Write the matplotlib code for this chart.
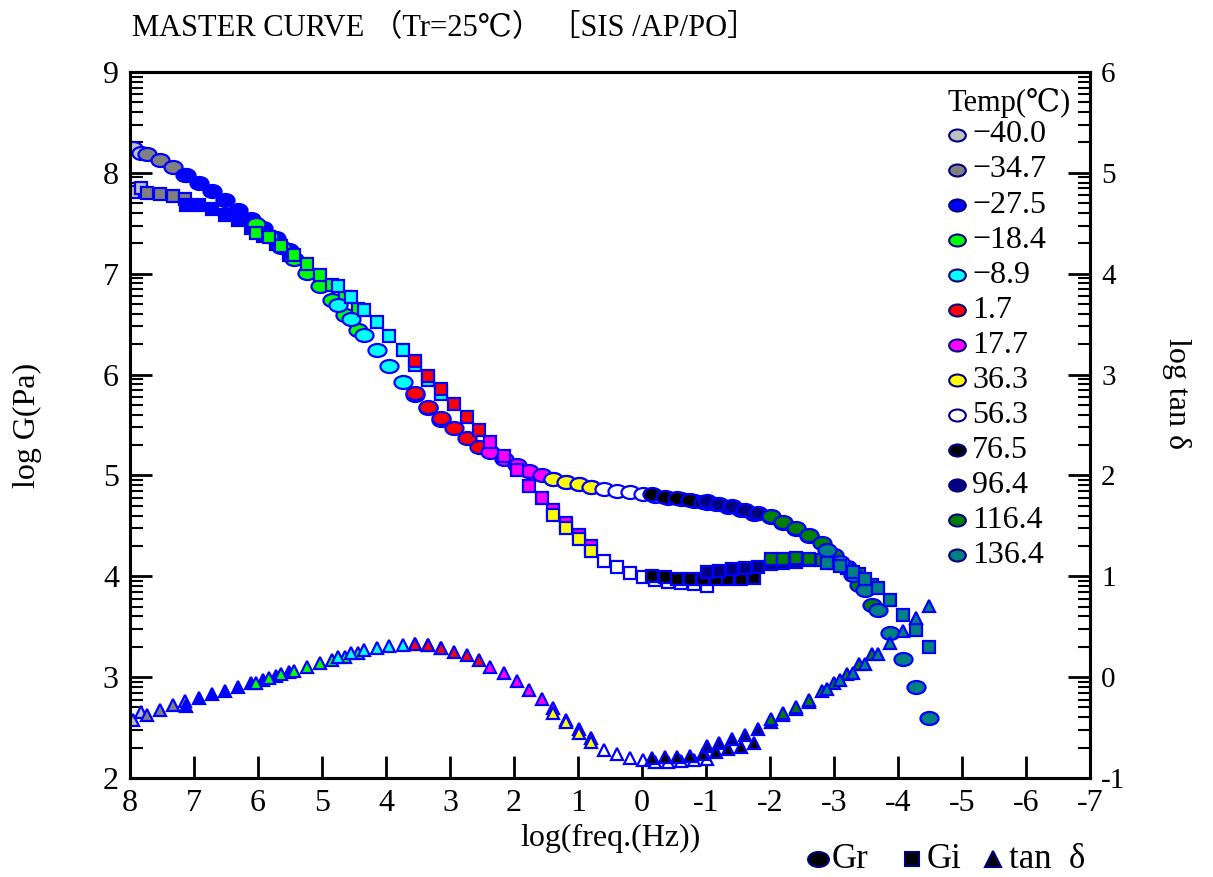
import matplotlib
matplotlib.use("Agg")
import matplotlib.pyplot as plt
from matplotlib.path import Path
from matplotlib.transforms import Affine2D
from matplotlib.ticker import FixedLocator
import numpy as np

plt.rcParams['font.family'] = ['Liberation Serif', 'DejaVu Serif', 'Noto Sans CJK JP']
plt.rcParams['axes.unicode_minus'] = False

# temperatures and their fill colours
temps = ['-40.0', '-34.7', '-27.5', '-18.4', '-8.9', '1.7', '17.7', '36.3',
         '56.3', '76.5', '96.4', '116.4', '136.4']
colors = ['#C0C0C0', '#808080', '#0000FF', '#00FF00', '#00FFFF', '#FF0000',
          '#FF00FF', '#FFFF00', '#FFFFFF', '#000000', '#000080', '#008000', '#008080']

# shifted log frequency for every temperature
logf = [
    [7.95, 7.83],
    [7.73, 7.53, 7.33, 7.14],
    [7.12, 6.92, 6.72, 6.52, 6.31, 6.11, 5.92, 5.72, 5.52],
    [6.03, 5.83, 5.64, 5.44, 5.23, 5.03, 4.84, 4.64, 4.44],
    [4.75, 4.54, 4.34, 4.14, 3.95, 3.74, 3.55, 3.35, 3.14],
    [3.55, 3.35, 3.14, 2.94, 2.74, 2.54],
    [2.37, 2.16, 1.96, 1.76, 1.57, 1.39, 1.19, 0.98, 0.79],
    [1.39, 1.19, 0.98, 0.79],
    [0.59, 0.39, 0.19, -0.01, -0.21, -0.41, -0.61, -0.81, -1.01],
    [-0.16, -0.36, -0.55, -0.75, -0.95, -1.15, -1.34, -1.55, -1.75],
    [-1.01, -1.21, -1.41, -1.61, -1.81, -2.01, -2.21, -2.41, -2.61],
    [-2.02, -2.21, -2.41, -2.61, -2.81, -3.00, -3.20, -3.39, -3.59],
    [-2.89, -3.09, -3.29, -3.48, -3.68, -3.88, -4.08, -4.28, -4.48],
]

# log G' (Gr)
gr = [
    [8.25, 8.20],
    [8.19, 8.13, 8.06, 7.98],
    [7.98, 7.90, 7.82, 7.73, 7.63, 7.54, 7.45, 7.35, 7.24],
    [7.49, 7.37, 7.26, 7.15, 7.01, 6.88, 6.74, 6.59, 6.44],
    [6.69, 6.55, 6.39, 6.24, 6.08, 5.93, 5.80, 5.67, 5.55],
    [5.82, 5.68, 5.57, 5.47, 5.37, 5.28],
    [5.23, 5.16, 5.10, 5.04, 5.00, 4.96, 4.93, 4.91, 4.89],
    [4.96, 4.93, 4.91, 4.89],
    [4.87, 4.85, 4.84, 4.82, 4.80, 4.78, 4.77, 4.75, 4.73],
    [4.82, 4.79, 4.78, 4.76, 4.74, 4.72, 4.69, 4.66, 4.62],
    [4.75, 4.72, 4.70, 4.66, 4.63, 4.59, 4.53, 4.47, 4.40],
    [4.60, 4.54, 4.48, 4.41, 4.33, 4.21, 4.09, 3.91, 3.72],
    [4.26, 4.14, 4.01, 3.86, 3.67, 3.44, 3.18, 2.90, 2.59],
]

# log G'' (Gi)
gi = [
    [7.81, 7.85],
    [7.80, 7.79, 7.77, 7.74],
    [7.68, 7.68, 7.64, 7.58, 7.53, 7.45, 7.37, 7.29, 7.19],
    [7.40, 7.36, 7.27, 7.19, 7.10, 6.99, 6.89, 6.77, 6.65],
    [6.88, 6.77, 6.64, 6.52, 6.38, 6.24, 6.09, 5.95, 5.81],
    [6.13, 5.99, 5.86, 5.71, 5.58, 5.45],
    [5.33, 5.19, 5.05, 4.90, 4.78, 4.66, 4.53, 4.41, 4.30],
    [4.61, 4.48, 4.37, 4.25],
    [4.15, 4.09, 4.03, 3.99, 3.96, 3.94, 3.93, 3.92, 3.90],
    [4.00, 3.99, 3.97, 3.97, 3.97, 3.97, 3.97, 3.97, 3.98],
    [4.04, 4.05, 4.07, 4.08, 4.09, 4.12, 4.13, 4.14, 4.16],
    [4.17, 4.17, 4.18, 4.17, 4.16, 4.13, 4.08, 4.02, 3.91],
    [4.13, 4.10, 4.04, 3.97, 3.88, 3.76, 3.62, 3.47, 3.30],
]

# log tan delta
tand = [
    [-0.43, -0.35],
    [-0.38, -0.33, -0.28, -0.24],
    [-0.29, -0.21, -0.17, -0.14, -0.10, -0.06, -0.03, 0.01, 0.05],
    [-0.06, -0.01, 0.03, 0.06, 0.10, 0.14, 0.17, 0.20, 0.24],
    [0.20, 0.24, 0.27, 0.29, 0.31, 0.32, 0.33, 0.32, 0.29],
    [0.33, 0.32, 0.29, 0.25, 0.22, 0.17],
    [0.10, 0.04, -0.04, -0.13, -0.22, -0.31, -0.43, -0.51, -0.60],
    [-0.36, -0.44, -0.55, -0.64],
    [-0.72, -0.76, -0.80, -0.82, -0.84, -0.84, -0.83, -0.82, -0.81],
    [-0.80, -0.79, -0.79, -0.78, -0.76, -0.74, -0.71, -0.69, -0.65],
    [-0.68, -0.65, -0.61, -0.57, -0.51, -0.44, -0.38, -0.32, -0.25],
    [-0.42, -0.36, -0.30, -0.23, -0.14, -0.06, 0.03, 0.13, 0.23],
    [-0.12, -0.03, 0.04, 0.13, 0.23, 0.34, 0.46, 0.59, 0.71],
]

ellipse = Path.unit_circle().transformed(Affine2D().scale(1.0, 0.72))
edge = '#0000FF'

fig = plt.figure(figsize=(12.13, 8.77), dpi=100)
ax = fig.add_axes([0.1072, 0.1129, 0.7914, 0.8050])
ax2 = ax.twinx()

for i in range(len(temps)):
    ax.plot(logf[i], gr[i], ls='none', marker=ellipse, ms=13, mfc=colors[i], mec=edge, mew=1.6)
    ax.plot(logf[i], gi[i], ls='none', marker='s', ms=8.5, mfc=colors[i], mec=edge, mew=1.6)
    ax2.plot(logf[i], tand[i], ls='none', marker='^', ms=9, mfc=colors[i], mec=edge, mew=1.6)

ax.set_xlim(8, -7)
ax.set_ylim(2, 9)
ax2.set_ylim(-1, 6)
ax.set_xticks(range(8, -8, -1))
ax.set_yticks(range(2, 10))
ax2.set_yticks(range(-1, 7))
ax.yaxis.set_minor_locator(FixedLocator([n + np.log10(k) for n in range(2, 9) for k in range(2, 10)]))
ax2.yaxis.set_minor_locator(FixedLocator([n + np.log10(k) for n in range(-1, 6) for k in range(2, 10)]))

for a in (ax, ax2):
    for s in a.spines.values():
        s.set_linewidth(2.2)
ax.tick_params(axis='both', which='major', direction='in', length=16, width=2, labelsize=23, pad=8)
ax.tick_params(axis='y', which='minor', direction='in', length=9, width=1.5)
ax2.tick_params(axis='y', which='major', direction='in', length=16, width=2, labelsize=21, pad=8)
ax2.tick_params(axis='y', which='minor', direction='in', length=9, width=1.5)

ax.set_xlabel('log(freq.(Hz))', fontsize=23, labelpad=4)
ax.set_ylabel('log G(Pa)', fontsize=23, labelpad=44)
ax2.set_ylabel('log tan δ', fontsize=23, rotation=270, labelpad=60)
ax2.yaxis.set_label_coords(1.105, 0.545)

fig.text(0.1088, 0.968, 'MASTER CURVE （Tr=25℃） ［SIS /AP/PO］', fontsize=22, va='center')

# temperature legend
ax.text(0.852, 0.956, 'Temp(℃)', transform=ax.transAxes, fontsize=22, va='center')
for i in range(len(temps)):
    yy = 0.9108 - i * 0.0496
    ax.plot([0.8615], [yy], transform=ax.transAxes, marker=ellipse, ms=12,
            mfc=colors[i], mec='#000080', mew=1.5, clip_on=False)
    ax.text(0.8771, yy, temps[i].replace('-', '−'), transform=ax.transAxes,
            fontsize=23, va='center')

# symbol legend below the plot
ly = 0.020
fig.lines.append(plt.Line2D([0.6744], [ly], transform=fig.transFigure, marker=ellipse, ms=15,
                            mfc='black', mec='#000080', mew=1.5))
fig.text(0.686, ly, 'Gr', fontsize=25, va='center')
fig.lines.append(plt.Line2D([0.752], [ly], transform=fig.transFigure, marker='s', ms=10,
                            mfc='black', mec='#000080', mew=1.5))
fig.text(0.764, ly, 'Gi', fontsize=25, va='center')
fig.lines.append(plt.Line2D([0.8186], [ly], transform=fig.transFigure, marker='^', ms=12,
                            mfc='black', mec='#000080', mew=1.5))
fig.text(0.832, ly, 'tan  δ', fontsize=25, va='center')

fig.savefig('out.png', dpi=100)
